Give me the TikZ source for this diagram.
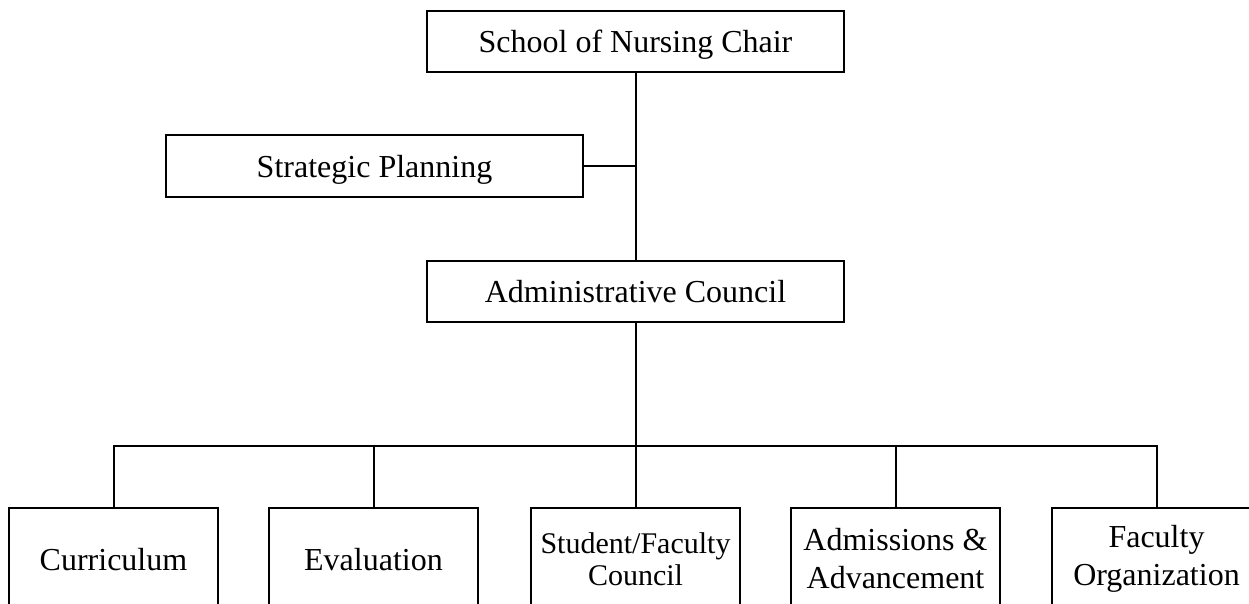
\documentclass[tikz,border=0pt]{standalone}
\usepackage{fontspec}
\setmainfont{Liberation Serif}
\begin{document}
\begin{tikzpicture}[x=1pt,y=-1pt,
  box/.style={draw=black, line width=2pt, inner sep=0pt, minimum width=417pt, minimum height=61pt,
    font=\fontsize{32}{38}\selectfont, text height=22pt, text depth=0pt},
  sub/.style={draw=black, line width=2pt, inner sep=0pt, minimum width=209pt, minimum height=102pt,
    font=\fontsize{32}{38}\selectfont, align=center},
  link/.style={draw=black, line width=2pt}]
\clip (0,0) rectangle (1249,603);
\useasboundingbox (0,0) rectangle (1249,603);
\node[box] (chair) at (635.5,41.5) {School of Nursing Chair};
\node[box, minimum height=62pt] (strat) at (374.5,166) {Strategic Planning};
\node[box] (admin) at (635.5,291.5) {Administrative Council};
\node[sub, text height=22pt, text depth=0pt] (cur) at (113.5,559) {Curriculum};
\node[sub, text height=22pt, text depth=0pt] (eval) at (373.5,559) {Evaluation};
\node[sub, font=\fontsize{30}{32}\selectfont] (stu) at (635.5,559) {Student/Faculty\\Council};
\node[sub] (adm) at (895.5,559) {Admissions \&\\Advancement};
\node[sub] (fac) at (1156.5,559) {Faculty\\Organization};
\coordinate (bus) at (635.5,446);
\draw[link] (chair.south) -- (admin.north);
\draw[link] (strat.east) -- (strat.east -| chair.south);
\draw[link] (admin.south) -- (bus);
\draw[link] (cur.north) |- (bus);
\draw[link] (fac.north) |- (bus);
\draw[link] (eval.north) -- (eval.north |- bus);
\draw[link] (adm.north) -- (adm.north |- bus);
\draw[link] (stu.north) -- (bus);
\end{tikzpicture}
\end{document}
